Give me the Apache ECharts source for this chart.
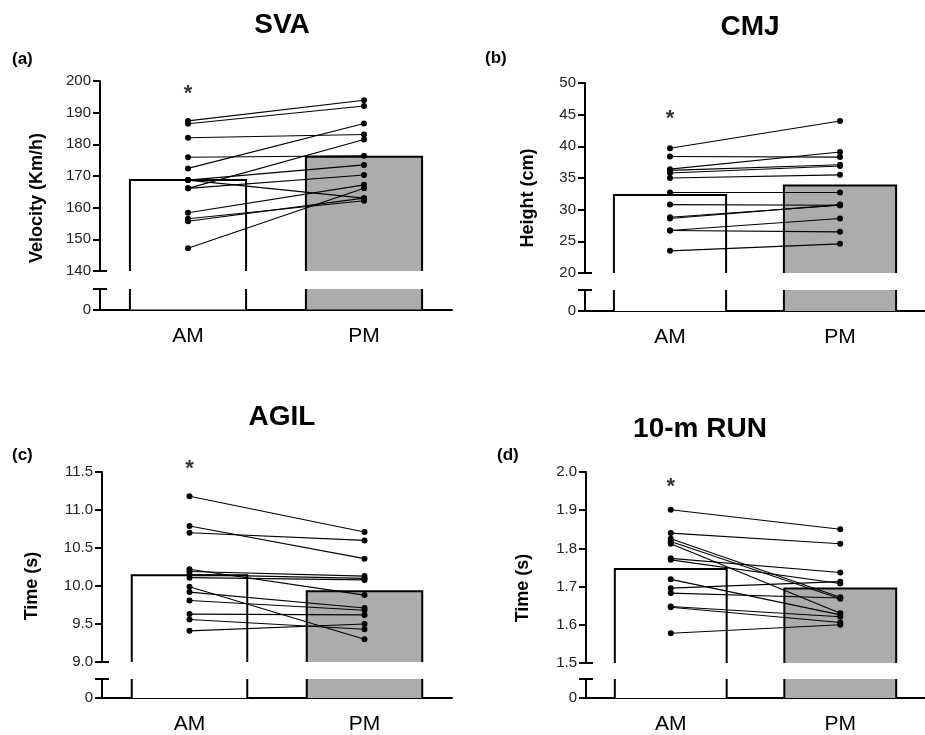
<!DOCTYPE html>
<html>
<head>
<meta charset="utf-8">
<script src="https://cdn.jsdelivr.net/npm/echarts@6/dist/echarts.min.js"></script>
<style>
    html, body { margin: 0; padding: 0; background: #fff; }
    #chart { width: 925px; height: 735px; }
</style>
</head>
<body>
<div id="chart"></div>
<script>
// categories and panel texts
const groups = ['AM', 'PM'];
const panelTitles = ['SVA', 'CMJ', 'AGIL', '10-m RUN'];
const panelLetters = ['(a)', '(b)', '(c)', '(d)'];
const yNames = ['Velocity (Km/h)', 'Height (cm)', 'Time (s)', 'Time (s)'];

// axis ranges (upper part of the broken axis)
const yMin = [140, 20, 9.0, 1.5];
const yMax = [200, 50, 11.5, 2.0];
const yStep = [10, 5, 0.5, 0.1];
const yDecimals = [0, 0, 1, 1];

// group means (bars)
const svaMean = [168.7, 176.1];
const cmjMean = [32.3, 33.8];
const agilMean = [10.14, 9.93];
const runMean = [1.746, 1.695];

// individual values, AM and PM (one line per subject)
const svaAM = [187.4, 186.5, 182.1, 175.9, 172.4, 168.7, 168.7, 166.1, 166.1, 158.4, 156.5, 155.7, 147.2];
const svaPM = [193.9, 192.1, 183.1, 176.4, 186.6, 173.5, 163.0, 181.5, 170.3, 167.2, 162.2, 163.0, 166.1];

const cmjAM = [39.7, 38.4, 36.4, 36.2, 35.8, 35.0, 32.7, 30.8, 28.8, 28.6, 26.7, 26.7, 23.5];
const cmjPM = [44.0, 38.3, 39.1, 37.1, 36.9, 35.5, 32.7, 30.7, 30.7, 30.8, 28.6, 26.5, 24.6];

const agilAM = [11.18, 10.79, 10.70, 10.22, 10.19, 10.15, 10.11, 9.99, 9.92, 9.81, 9.63, 9.56, 9.41];
const agilPM = [10.71, 10.36, 10.60, 9.88, 10.13, 10.10, 10.08, 9.30, 9.71, 9.68, 9.62, 9.43, 9.50];

const runAM = [1.901, 1.840, 1.825, 1.818, 1.812, 1.774, 1.770, 1.719, 1.696, 1.683, 1.648, 1.646, 1.578];
const runPM = [1.850, 1.812, 1.672, 1.668, 1.630, 1.737, 1.708, 1.626, 1.713, 1.670, 1.621, 1.606, 1.600];

// where the significance asterisk sits (value on the upper axis)
const starAt = [197.1, 45.0, 11.59, 1.971];

const means = [svaMean, cmjMean, agilMean, runMean];
const amVals = [svaAM, cmjAM, agilAM, runAM];
const pmVals = [svaPM, cmjPM, agilPM, runPM];

// layout of each panel: upper grid and the short lower grid under the break
const layout = [
    { left: 100, width: 352, top: 81, height: 190, lowTop: 289, lowHeight: 20.5 },
    { left: 585, width: 350, top: 83, height: 190, lowTop: 290, lowHeight: 21 },
    { left: 102, width: 350, top: 472, height: 190, lowTop: 679, lowHeight: 22 },
    { left: 586, width: 350, top: 472, height: 191, lowTop: 679, lowHeight: 22 }
];
const titlePos = [[282, 25], [750, 27], [282, 417], [700, 429]];
const letterPos = [[12, 59], [485, 58], [12, 455], [497, 455]];
const namePos = [[37, 198], [528, 198], [32, 586], [523, 588]];

const FONT = '"Liberation Sans", Arial, sans-serif';
const barFill = ['#ffffff', '#acacac'];

function barRender(isLower) {
    return function (params, api) {
        const cat = api.value(0);
        const top = api.coord([cat, api.value(1)]);
        const cs = params.coordSys;
        const bottomY = cs.y + cs.height;
        const topY = isLower ? cs.y : top[1];
        const w = api.size([1, 0])[0] * 0.66;
        const x0 = top[0] - w / 2;
        const x1 = top[0] + w / 2;
        const line = { stroke: '#000', lineWidth: 2 };
        const children = [{
            type: 'rect',
            shape: { x: x0, y: topY, width: w, height: bottomY - topY },
            style: { fill: barFill[params.dataIndex], stroke: null }
        }];
        if (isLower) {
            children.push({ type: 'line', shape: { x1: x0, y1: topY, x2: x0, y2: bottomY }, style: line });
            children.push({ type: 'line', shape: { x1: x1, y1: topY, x2: x1, y2: bottomY }, style: line });
        } else {
            children.push({
                type: 'polyline',
                shape: { points: [[x0, bottomY], [x0, topY], [x1, topY], [x1, bottomY]] },
                style: { stroke: '#000', lineWidth: 2, fill: null }
            });
        }
        // cap of the axis break, on the inner side of the value axis
        if (params.dataIndex === 0) {
            const capY = isLower ? cs.y : bottomY;
            children.push({ type: 'line', shape: { x1: cs.x, y1: capY, x2: cs.x + 7, y2: capY }, style: line });
        }
        return { type: 'group', children: children };
    };
}

const grid = [];
const xAxis = [];
const yAxis = [];
const series = [];
const graphic = [];

layout.forEach((L, k) => {
    grid.push({ left: L.left, top: L.top, width: L.width, height: L.height });
    grid.push({ left: L.left, top: L.lowTop, width: L.width, height: L.lowHeight });

    xAxis.push({
        type: 'category', gridIndex: 2 * k, data: groups, show: false
    });
    xAxis.push({
        type: 'category', gridIndex: 2 * k + 1, data: groups,
        axisLine: { lineStyle: { color: '#000', width: 2 } },
        axisTick: { show: false },
        axisLabel: { color: '#000', fontSize: 21, margin: 16, fontFamily: FONT }
    });

    const dec = yDecimals[k];
    // upper value axis
    yAxis.push({
        type: 'value', gridIndex: 2 * k, min: yMin[k], max: yMax[k], interval: yStep[k],
        axisLine: { show: true, lineStyle: { color: '#000', width: 2 } },
        axisTick: { show: true, length: 7, lineStyle: { color: '#000', width: 2 } },
        axisLabel: { color: '#222', fontSize: 15, margin: 9, fontFamily: FONT,
            formatter: v => v.toFixed(dec) },
        splitLine: { show: false }
    });
    // lower value axis (just the zero)
    yAxis.push({
        type: 'value', gridIndex: 2 * k + 1, min: 0, max: 1, interval: 1,
        axisLine: { show: true, lineStyle: { color: '#000', width: 2 } },
        axisTick: { show: true, length: 7, lineStyle: { color: '#000', width: 2 } },
        axisLabel: { color: '#222', fontSize: 15, margin: 9, fontFamily: FONT,
            formatter: v => (v === 0 ? '0' : '') },
        splitLine: { show: false }
    });

    const barData = means[k].map((v, i) => [i, v]);
    series.push({
        type: 'custom', xAxisIndex: 2 * k, yAxisIndex: 2 * k,
        renderItem: barRender(false), encode: { x: 0, y: 1 }, data: barData, z: 1
    });
    series.push({
        type: 'custom', xAxisIndex: 2 * k + 1, yAxisIndex: 2 * k + 1,
        renderItem: barRender(true), encode: { x: 0, y: 1 }, data: barData, z: 1
    });

    amVals[k].forEach((a, i) => {
        series.push({
            type: 'line', xAxisIndex: 2 * k, yAxisIndex: 2 * k,
            data: [a, pmVals[k][i]],
            symbol: 'circle', symbolSize: 6, showSymbol: true,
            lineStyle: { color: '#000', width: 1.1 },
            itemStyle: { color: '#000' },
            z: 3
        });
    });

    series.push({
        type: 'scatter', xAxisIndex: 2 * k, yAxisIndex: 2 * k,
        data: [[0, starAt[k]]], symbolSize: 1, clip: false,
        itemStyle: { color: 'rgba(0,0,0,0)' },
        label: { show: true, position: 'inside', formatter: '*', offset: [0, 4],
            color: '#000', fontSize: 22, fontWeight: 'bold', fontFamily: FONT },
        z: 4
    });

    graphic.push({
        type: 'text', x: titlePos[k][0], y: titlePos[k][1],
        style: { text: panelTitles[k], fill: '#000', font: 'bold 28px ' + FONT,
            textAlign: 'center', textVerticalAlign: 'middle' }
    });
    graphic.push({
        type: 'text', x: letterPos[k][0], y: letterPos[k][1],
        style: { text: panelLetters[k], fill: '#000', font: 'bold 17px ' + FONT,
            textAlign: 'left', textVerticalAlign: 'middle' }
    });
    graphic.push({
        type: 'text', x: namePos[k][0], y: namePos[k][1], rotation: Math.PI / 2,
        style: { text: yNames[k], fill: '#000', font: 'bold 18px ' + FONT,
            textAlign: 'center', textVerticalAlign: 'middle' }
    });
});

var chart = echarts.init(document.getElementById('chart'));
chart.setOption({
    animation: false,
    backgroundColor: '#fff',
    textStyle: { fontFamily: FONT },
    grid: grid,
    xAxis: xAxis,
    yAxis: yAxis,
    series: series,
    graphic: graphic
});
</script>
</body>
</html>
